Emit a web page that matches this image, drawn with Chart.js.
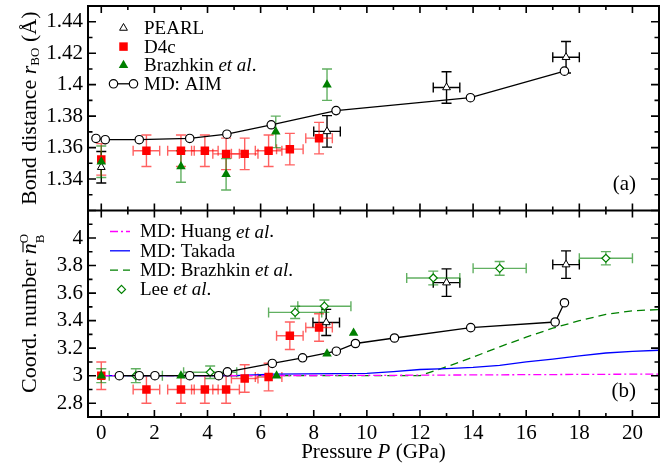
<!DOCTYPE html>
<html>
<head>
<meta charset="utf-8">
<script src="https://cdn.jsdelivr.net/npm/chart.js@4.4.1/dist/chart.umd.min.js"></script>
<style>
  html, body { margin: 0; padding: 0; background: #fff; }
  #grafico { display: block; }
</style>
</head>
<body>
<canvas id="grafico" width="668" height="468"></canvas>
<script>
// ---------------- dados ----------------
// eixo da pressão (GPa)
const xMin = -0.5, xMax = 21;
const xTicks = [0, 2, 4, 6, 8, 10, 12, 14, 16, 18, 20];

// painel (a): distância de ligação r_BO (Å)
const yTopMin = 1.32, yTopMax = 1.45;
const yTopTicks = [1.34, 1.36, 1.38, 1.40, 1.42, 1.44];
const yTopLabels = ['1.34', '1.36', '1.38', '1.4', '1.42', '1.44'];

// painel (b): número de coordenação
const yBotMin = 2.7, yBotMax = 4.2;
const yBotTicks = [2.8, 3.0, 3.2, 3.4, 3.6, 3.8, 4.0];
const yBotLabels = ['2.8', '3', '3.2', '3.4', '3.6', '3.8', '4'];

// MD: AIM
const aimTopP = [-0.2, 0.15, 1.43, 3.33, 4.73, 6.4, 8.84, 13.9, 17.44];
const aimTopR = [1.3658, 1.365, 1.365, 1.3658, 1.3685, 1.3745, 1.3835, 1.3917, 1.4086];
const aimBotP = [0.68, 1.43, 2.02, 3.33, 4.42, 4.75, 6.44, 7.58, 8.85, 9.57, 11.04, 13.91, 17.09, 17.44];
const aimBotN = [3.0, 3.0, 3.0, 3.0, 3.0, 3.028, 3.089, 3.13, 3.178, 3.234, 3.274, 3.349, 3.39, 3.53];

// PEARL
const pearlTopP = [0, 8.5, 13.0, 17.5];
const pearlTopR = [1.3475, 1.3703, 1.3982, 1.4174];
const pearlTopPErr = [0, 0.5, 0.5, 0.5];
const pearlTopRErr = [0.01, 0.01, 0.01, 0.01];
const pearlBotP = [8.47, 13.0, 17.5];
const pearlBotN = [3.387, 3.676, 3.807];
const pearlBotPErr = [0.5, 0.5, 0.5];
const pearlBotNErr = [0.095, 0.1, 0.1];

// D4c
const d4cTopP = [0, 1.7, 3.0, 3.9, 4.7, 5.4, 6.3, 7.1, 8.2];
const d4cTopR = [1.3525, 1.358, 1.358, 1.358, 1.356, 1.356, 1.358, 1.359, 1.366];
const d4cTopPErr = [0, 0.5, 0.5, 0.5, 0.5, 0.5, 0.5, 0.5, 0.5];
const d4cTopRErr = [0.01, 0.01, 0.01, 0.01, 0.01, 0.01, 0.01, 0.01, 0.01];
const d4cBotP = [0, 1.7, 3.0, 3.9, 4.7, 5.4, 6.3, 7.1, 8.2];
const d4cBotN = [3.0, 2.9, 2.9, 2.9, 2.9, 2.98, 2.99, 3.29, 3.35];
const d4cBotPErr = [0, 0.5, 0.5, 0.5, 0.5, 0.5, 0.5, 0.5, 0.5];
const d4cBotNErr = [0.1, 0.1, 0.1, 0.1, 0.1, 0.1, 0.1, 0.1, 0.1];

// Brazhkin et al. (experimento)
const brzTopP = [0, 3.0, 4.7, 6.57, 8.5];
const brzTopR = [1.351, 1.348, 1.343, 1.370, 1.400];
const brzTopRErr = [0.01, 0.01, 0.01, 0.01, 0.01];
const brzBotP = [0, 3.0, 6.6, 8.5, 9.5];
const brzBotN = [3.0, 3.0, 3.0, 3.16, 3.31];
const brzBotNErr = [0.05, 0, 0, 0, 0];

// Lee et al.
const leeP = [1.3, 4.1, 7.3, 8.4, 12.5, 15.0, 19.0];
const leeN = [3.0, 3.025, 3.46, 3.505, 3.71, 3.78, 3.853];
const leePErr = [1, 1, 1, 1, 1, 1, 1];
const leeNErr = [0.05, 0.045, 0.045, 0.045, 0.05, 0.05, 0.048];

// curvas MD
const huangP = [0, 10, 21];
const huangN = [3.0, 3.002, 3.012];
const takadaP = [0, 5, 6.5, 10, 11, 12, 13, 14, 15, 16, 17, 18, 19, 20, 21];
const takadaN = [3.0, 3.0, 3.012, 3.017, 3.03, 3.045, 3.052, 3.06, 3.075, 3.1, 3.12, 3.144, 3.165, 3.177, 3.185];
const brzMdP = [0, 12, 13, 14, 15, 16, 17, 18, 19, 20, 21];
const brzMdN = [3.0, 3.0, 3.065, 3.135, 3.21, 3.28, 3.345, 3.40, 3.445, 3.472, 3.48];

// ---------------- estilo ----------------
const fonte = '"Liberation Serif", "Times New Roman", serif';
const vermelho = '#ff0000', vermelhoErr = 'rgba(255,0,0,0.62)';
const verde = '#008000', verdeErr = 'rgba(0,128,0,0.62)';

function pontos(px, py, ex, ey) {
    return px.map((p, i) => ({x: p, y: py[i], ex: ex ? ex[i] : 0, ey: ey ? ey[i] : 0}));
}

const datasets = [
    // ---- painel (a)
    {label: 'MD: AIM', data: pontos(aimTopP, aimTopR), yAxisID: 'yTop', showLine: true,
     borderColor: '#000', borderWidth: 1.3, pointStyle: 'circle', pointRadius: 4.2,
     pointBackgroundColor: '#fff', pointBorderColor: '#000', pointBorderWidth: 1.2, order: 2},
    {label: 'PEARL', data: pontos(pearlTopP, pearlTopR, pearlTopPErr, pearlTopRErr), yAxisID: 'yTop',
     pointStyle: 'triangle', pointRadius: 4.5, pointBackgroundColor: '#fff', pointBorderColor: '#000',
     pointBorderWidth: 1, corErro: '#000', order: 1},
    {label: 'D4c', data: pontos(d4cTopP, d4cTopR, d4cTopPErr, d4cTopRErr), yAxisID: 'yTop',
     pointStyle: 'rect', pointRadius: 6, pointBackgroundColor: vermelho, pointBorderColor: vermelho,
     pointBorderWidth: 0, corErro: vermelhoErr, order: 1},
    {label: 'Brazhkin et al.', data: pontos(brzTopP, brzTopR, null, brzTopRErr), yAxisID: 'yTop',
     pointStyle: 'triangle', pointRadius: 5.5, pointBackgroundColor: verde, pointBorderColor: verde,
     pointBorderWidth: 0, corErro: verdeErr, order: 0},
    // ---- painel (b)
    {label: 'MD: Huang et al.', data: pontos(huangP, huangN), yAxisID: 'yBot', showLine: true,
     borderColor: '#ff00ff', borderWidth: 1.3, borderDash: [8, 3, 2, 3], pointRadius: 0, order: 9},
    {label: 'MD: Takada', data: pontos(takadaP, takadaN), yAxisID: 'yBot', showLine: true,
     borderColor: '#0000ff', borderWidth: 1.3, pointRadius: 0, order: 9},
    {label: 'MD: Brazhkin et al.', data: pontos(brzMdP, brzMdN), yAxisID: 'yBot', showLine: true,
     borderColor: verde, borderWidth: 1.3, borderDash: [8, 5], pointRadius: 0, order: 9},
    {label: 'MD: AIM', data: pontos(aimBotP, aimBotN), yAxisID: 'yBot', showLine: true,
     borderColor: '#000', borderWidth: 1.3, pointStyle: 'circle', pointRadius: 4.2,
     pointBackgroundColor: '#fff', pointBorderColor: '#000', pointBorderWidth: 1.2, order: 2},
    {label: 'PEARL', data: pontos(pearlBotP, pearlBotN, pearlBotPErr, pearlBotNErr), yAxisID: 'yBot',
     pointStyle: 'triangle', pointRadius: 4.5, pointBackgroundColor: '#fff', pointBorderColor: '#000',
     pointBorderWidth: 1, corErro: '#000', order: 1},
    {label: 'D4c', data: pontos(d4cBotP, d4cBotN, d4cBotPErr, d4cBotNErr), yAxisID: 'yBot',
     pointStyle: 'rect', pointRadius: 6, pointBackgroundColor: vermelho, pointBorderColor: vermelho,
     pointBorderWidth: 0, corErro: vermelhoErr, order: 1},
    {label: 'Brazhkin et al.', data: pontos(brzBotP, brzBotN, null, brzBotNErr), yAxisID: 'yBot',
     pointStyle: 'triangle', pointRadius: 5.5, pointBackgroundColor: verde, pointBorderColor: verde,
     pointBorderWidth: 0, corErro: verdeErr, order: 0},
    {label: 'Lee et al.', data: pontos(leeP, leeN, leePErr, leeNErr), yAxisID: 'yBot',
     pointStyle: 'rectRot', pointRadius: 4, pointBackgroundColor: '#fff', pointBorderColor: verde,
     pointBorderWidth: 1.2, corErro: verdeErr, order: 3},
];

// ---------------- texto com itálico / índices ----------------
function fonteDe(p) {
    return (p.it ? 'italic ' : '') + (p.sz || 21) + 'px ' + fonte;
}

function escreveTexto(c, partes, x, y, alinha) {
    let total = 0;
    partes.forEach(p => {
        c.font = fonteDe(p);
        p.w = c.measureText(p.t).width;
        if (p.adv !== false) total += p.w;
    });
    let cx = alinha === 'center' ? x - total / 2 : (alinha === 'right' ? x - total : x);
    c.textAlign = 'left';
    partes.forEach(p => {
        c.font = fonteDe(p);
        c.fillText(p.t, cx, y + (p.dy || 0));
        if (p.barra) {
            c.save();
            c.lineWidth = 1.1;
            c.beginPath();
            c.moveTo(cx + 2, y - 13);
            c.lineTo(cx + p.w + 1, y - 13);
            c.stroke();
            c.restore();
        }
        if (p.adv !== false) cx += p.w;
    });
}

// ---------------- plugins ----------------
const barrasErro = {
    id: 'barrasErro',
    beforeDatasetsDraw(chart) {
        const c = chart.ctx, xs = chart.scales.x;
        chart.data.datasets.forEach((ds, i) => {
            if (!ds.corErro) return;
            const ys = chart.scales[ds.yAxisID];
            c.save();
            c.strokeStyle = ds.corErro;
            c.lineWidth = 1.4;
            ds.data.forEach(d => {
                const px = xs.getPixelForValue(d.x), py = ys.getPixelForValue(d.y);
                c.beginPath();
                if (d.ey) {
                    const a = ys.getPixelForValue(d.y + d.ey), b = ys.getPixelForValue(d.y - d.ey);
                    c.moveTo(px, a); c.lineTo(px, b);
                    c.moveTo(px - 5, a); c.lineTo(px + 5, a);
                    c.moveTo(px - 5, b); c.lineTo(px + 5, b);
                }
                if (d.ex) {
                    const a = xs.getPixelForValue(d.x - d.ex), b = xs.getPixelForValue(d.x + d.ex);
                    c.moveTo(a, py); c.lineTo(b, py);
                    c.moveTo(a, py - 5); c.lineTo(a, py + 5);
                    c.moveTo(b, py - 5); c.lineTo(b, py + 5);
                }
                c.stroke();
            });
            c.restore();
        });
    }
};

function marcador(c, ds, x, y) {
    c.save();
    c.fillStyle = ds.pointBackgroundColor;
    c.strokeStyle = ds.pointBorderColor;
    c.lineWidth = ds.pointBorderWidth;
    Chart.helpers.drawPoint(c, {pointStyle: ds.pointStyle, radius: ds.pointRadius, rotation: 0,
        borderWidth: ds.pointBorderWidth}, x, y);
    c.restore();
}

const moldura = {
    id: 'moldura',
    afterDatasetsDraw(chart) {
        const c = chart.ctx, a = chart.chartArea, xs = chart.scales.x;
        const yA = chart.scales.yTop, yB = chart.scales.yBot;
        const meio = yA.bottom;
        c.save();
        c.strokeStyle = '#000';
        // marcas do eixo x (para dentro)
        c.lineWidth = 1.6;
        c.beginPath();
        for (let v = 0; v <= xMax; v++) {
            const px = xs.getPixelForValue(v), L = v % 2 === 0 ? 7 : 4;
            c.moveTo(px, a.top); c.lineTo(px, a.top + L);
            c.moveTo(px, meio - L); c.lineTo(px, meio + L);
            c.moveTo(px, a.bottom); c.lineTo(px, a.bottom - L);
        }
        // marcas do eixo y
        for (let k = 132; k <= 145; k++) {
            const py = yA.getPixelForValue(k / 100), L = k % 2 === 0 ? 8 : 4.5;
            c.moveTo(a.left, py); c.lineTo(a.left + L, py);
            c.moveTo(a.right, py); c.lineTo(a.right - L, py);
        }
        for (let k = 27; k <= 42; k++) {
            const py = yB.getPixelForValue(k / 10), L = k % 2 === 0 ? 8 : 4.5;
            c.moveTo(a.left, py); c.lineTo(a.left + L, py);
            c.moveTo(a.right, py); c.lineTo(a.right - L, py);
        }
        c.stroke();
        // bordas e divisória
        c.lineWidth = 2;
        c.strokeRect(a.left, a.top, a.right - a.left, a.bottom - a.top);
        c.beginPath();
        c.moveTo(a.left, meio); c.lineTo(a.right, meio);
        c.stroke();

        // legenda (a)
        c.fillStyle = '#000';
        c.textBaseline = 'middle';
        const ds = chart.data.datasets;
        const legA = [
            {d: ds[1], partes: [{t: 'PEARL'}]},
            {d: ds[2], partes: [{t: 'D4c'}]},
            {d: ds[3], partes: [{t: 'Brazhkin '}, {t: 'et al', it: true}, {t: '.'}]},
            {d: ds[0], partes: [{t: 'MD: AIM'}], linha: true},
        ];
        legA.forEach((item, i) => {
            const y = yA.top + 22 + i * 18.6, x = a.left + 35.5;
            if (item.linha) {
                c.save();
                c.strokeStyle = '#000'; c.lineWidth = 1.3;
                c.beginPath(); c.moveTo(x - 10, y); c.lineTo(x + 10, y); c.stroke();
                c.restore();
                marcador(c, item.d, x - 10, y);
                marcador(c, item.d, x + 10, y);
            } else {
                marcador(c, item.d, x, y);
            }
            c.fillStyle = '#000';
            item.partes.forEach(p => p.sz = 19);
            escreveTexto(c, item.partes, a.left + 56, y + 1, 'left');
        });

        // legenda (b)
        const legB = [
            {d: ds[4], partes: [{t: 'MD: Huang '}, {t: 'et al', it: true}, {t: '.'}], linha: true},
            {d: ds[5], partes: [{t: 'MD: Takada'}], linha: true},
            {d: ds[6], partes: [{t: 'MD: Brazhkin '}, {t: 'et al', it: true}, {t: '.'}], linha: true},
            {d: ds[11], partes: [{t: 'Lee '}, {t: 'et al', it: true}, {t: '.'}]},
        ];
        legB.forEach((item, i) => {
            const y = yB.top + 21 + i * 19.3;
            if (item.linha) {
                c.save();
                c.strokeStyle = item.d.borderColor; c.lineWidth = 1.3;
                c.setLineDash(item.d.borderDash || []);
                c.beginPath(); c.moveTo(a.left + 22, y); c.lineTo(a.left + 42, y); c.stroke();
                c.restore();
            } else {
                marcador(c, item.d, a.left + 33.5, y);
            }
            c.fillStyle = '#000';
            item.partes.forEach(p => p.sz = 19);
            escreveTexto(c, item.partes, a.left + 52, y + 1, 'left');
        });

        // rótulos dos painéis
        c.font = '21px ' + fonte;
        c.textAlign = 'right';
        c.fillText('(a)', a.right - 23, meio - 26);
        c.fillText('(b)', a.right - 23, a.bottom - 26);

        // títulos dos eixos
        c.textBaseline = 'alphabetic';
        escreveTexto(c, [{t: 'Pressure ', sz: 21}, {t: 'P', it: true, sz: 21}, {t: ' (GPa)', sz: 21}],
            (a.left + a.right) / 2, 458, 'center');
        c.save();
        c.translate(36, (yA.top + yA.bottom) / 2);
        c.rotate(-Math.PI / 2);
        escreveTexto(c, [{t: 'Bond distance ', sz: 22}, {t: 'r', it: true, sz: 22},
            {t: 'BO', sz: 13, dy: 3}, {t: ' (\u00c5)', sz: 22}], 0, 0, 'center');
        c.restore();
        c.save();
        c.translate(36, (yB.top + yB.bottom) / 2);
        c.rotate(-Math.PI / 2);
        escreveTexto(c, [{t: 'Coord. number ', sz: 22}, {t: 'n', it: true, sz: 22, barra: true},
            {t: 'O', sz: 13, dy: -8, adv: false}, {t: 'B', sz: 13, dy: 8}], 0, 0, 'center');
        c.restore();
        c.restore();
    }
};

// ---------------- gráfico ----------------
const Grafico = document.getElementById('grafico').getContext('2d');

function eixoY(minimo, maximo, marcas, rotulos, peso) {
    return {
        type: 'linear', position: 'left', stack: 'paineis', stackWeight: peso,
        min: minimo, max: maximo,
        afterBuildTicks: s => { s.ticks = marcas.map(v => ({value: v})); },
        afterFit: s => { s.width = 88; s.paddingTop = 0; s.paddingBottom = 0; },
        grid: {display: false, drawTicks: false},
        border: {display: false},
        ticks: {
            font: {family: fonte, size: 21}, color: '#000', padding: 5, autoSkip: false,
            callback: (v, i) => rotulos[i]
        }
    };
}

const grafico = new Chart(Grafico, {
    type: 'scatter',
    data: {datasets: datasets},
    options: {
        responsive: false,
        animation: false,
        layout: {padding: {left: 0, right: 9, top: 3, bottom: 0}},
        elements: {line: {tension: 0}},
        plugins: {legend: {display: false}, tooltip: {enabled: false}},
        scales: {
            x: {
                type: 'linear', position: 'bottom', min: xMin, max: xMax,
                afterBuildTicks: s => { s.ticks = xTicks.map(v => ({value: v})); },
                afterFit: s => { s.height = 51; s.paddingLeft = 0; s.paddingRight = 0; },
                grid: {display: false, drawTicks: false},
                border: {display: false},
                ticks: {font: {family: fonte, size: 21}, color: '#000', padding: 4,
                        maxRotation: 0, autoSkip: false, callback: v => String(v)}
            },
            yBot: eixoY(yBotMin, yBotMax, yBotTicks, yBotLabels, 208),
            yTop: eixoY(yTopMin, yTopMax, yTopTicks, yTopLabels, 206)
        }
    },
    plugins: [barrasErro, moldura]
});
</script>
</body>
</html>
